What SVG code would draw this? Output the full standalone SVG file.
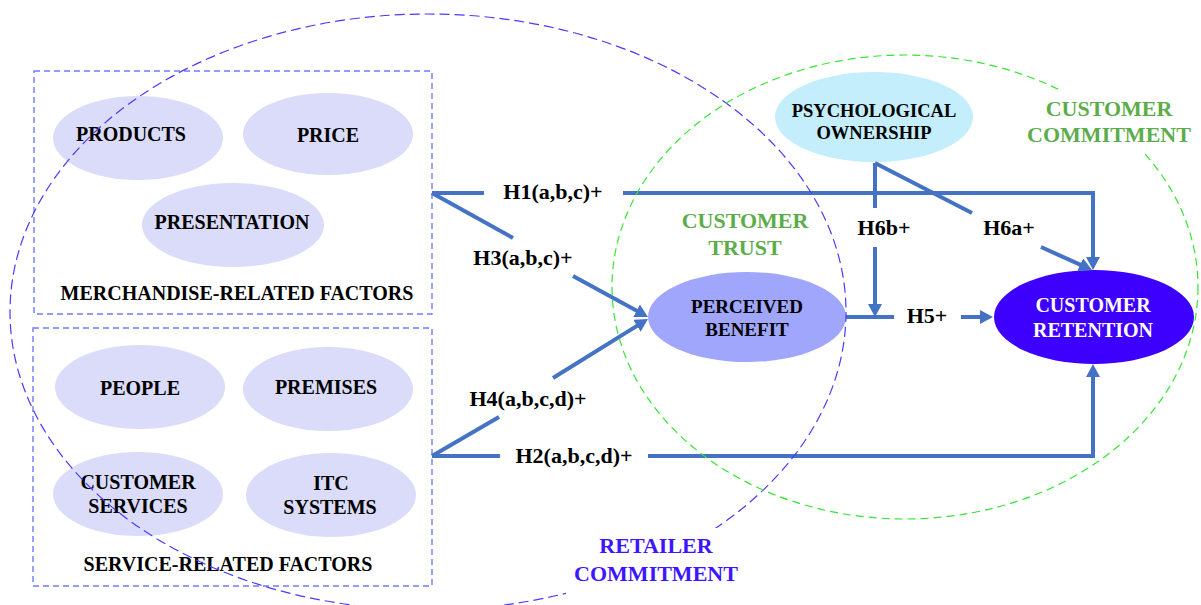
<svg xmlns="http://www.w3.org/2000/svg" width="1201" height="605" viewBox="0 0 1201 605">
<style>
text{font-family:"Liberation Serif","Times New Roman",serif;font-weight:bold;text-anchor:middle}
.lt{fill:#dadcfa}
.n{font-size:20px;fill:#000}
.h{font-size:22px;fill:#000}
.grp{font-size:22px}
.green{fill:#5cad4a}
.blue{fill:#3d16ff}
.box{fill:none;stroke:#6f7cfb;stroke-width:1.4;stroke-dasharray:6 4}
.con{fill:none;stroke:#4472c4;stroke-width:4}
.arr{marker-end:url(#ah)}
</style>
<defs>
<marker id="ah" markerUnits="userSpaceOnUse" markerWidth="14" markerHeight="14" refX="9" refY="7" orient="auto">
<path d="M0,0 L13,7 L0,14 z" fill="#4472c4"/>
</marker>
</defs>
<rect width="1201" height="605" fill="#fff"/>

<g id="merchandise-box">
<rect class="box" x="34" y="71" width="398" height="243"/>
<text class="n" x="237" y="300">MERCHANDISE-RELATED FACTORS</text>
</g>
<g id="service-box">
<rect class="box" x="33" y="328" width="399" height="258"/>
<text class="n" x="228" y="571">SERVICE-RELATED FACTORS</text>
</g>

<g id="products"><ellipse class="lt" cx="138" cy="138" rx="85" ry="42"/><text class="n" x="131" y="141">PRODUCTS</text></g>
<g id="price"><ellipse class="lt" cx="328" cy="134" rx="85" ry="41"/><text class="n" x="328" y="142">PRICE</text></g>
<g id="presentation"><ellipse class="lt" cx="233" cy="225" rx="91" ry="42"/><text class="n" x="232" y="229">PRESENTATION</text></g>
<g id="people"><ellipse class="lt" cx="140" cy="387" rx="85" ry="42"/><text class="n" x="140" y="395">PEOPLE</text></g>
<g id="premises"><ellipse class="lt" cx="328" cy="389" rx="85" ry="42"/><text class="n" x="326" y="394">PREMISES</text></g>
<g id="customer-services"><ellipse class="lt" cx="138" cy="494" rx="85" ry="42"/><text class="n" x="138" y="489">CUSTOMER</text><text class="n" x="138" y="513">SERVICES</text></g>
<g id="itc-systems"><ellipse class="lt" cx="331" cy="495" rx="85" ry="42"/><text class="n" x="331" y="490">ITC</text><text class="n" x="330" y="514">SYSTEMS</text></g>

<g id="perceived-benefit"><ellipse cx="747" cy="317" rx="99" ry="45" fill="#a0a6fb"/><text class="n" style="font-size:19px" x="747" y="313">PERCEIVED</text><text class="n" style="font-size:19px" x="747" y="336">BENEFIT</text></g>
<g id="psychological-ownership"><ellipse cx="874" cy="117" rx="99" ry="45" fill="#c4eefb"/><text class="n" style="font-size:18.5px" x="874" y="117">PSYCHOLOGICAL</text><text class="n" style="font-size:18.5px" x="874" y="139">OWNERSHIP</text></g>
<g id="customer-retention"><ellipse cx="1094" cy="317" rx="100" ry="47" fill="#3d00ff"/><text class="n" style="fill:#fff" x="1093" y="312">CUSTOMER</text><text class="n" style="fill:#fff" x="1093" y="337">RETENTION</text></g>

<g id="connectors">
<path class="con" d="M432,193 L484,193"/>
<path class="con arr" d="M623,193 L1093,193 L1093,266"/>
<path class="con" d="M432,193 L513,238"/>
<path class="con arr" d="M573,276 L644.5,315.1"/>
<path class="con" d="M432,456 L499,417"/>
<path class="con arr" d="M553,378 L644.6,321.1"/>
<path class="con" d="M432,456 L500,456"/>
<path class="con arr" d="M648,456 L1093,456 L1093,368"/>
<path class="con" d="M846,317 L894,317"/>
<path class="con arr" d="M961,317 L989,317"/>
<path class="con" d="M875,163 L875,208"/>
<path class="con arr" d="M875,247 L875,313"/>
<path class="con" d="M875,163 L972,213"/>
<path class="con arr" d="M1041,247 L1088.4,268.4"/>
<text class="h" x="553" y="199">H1(a,b,c)+</text>
<text class="h" x="523" y="265">H3(a,b,c)+</text>
<text class="h" x="528" y="406">H4(a,b,c,d)+</text>
<text class="h" x="574" y="463">H2(a,b,c,d)+</text>
<text class="h" x="927" y="323">H5+</text>
<text class="h" x="884" y="235">H6b+</text>
<text class="h" x="1009" y="235">H6a+</text>
</g>

<g id="retailer-commitment">
<ellipse cx="428" cy="312" rx="418" ry="298" fill="none" stroke="#4a3aff" stroke-width="1.2" stroke-dasharray="10 5"/>
<rect x="566" y="528" width="180" height="72" fill="#fff"/>
<text class="grp blue" x="656" y="553">RETAILER</text>
<text class="grp blue" x="656" y="581">COMMITMENT</text>
</g>
<g id="customer-commitment">
<ellipse cx="905" cy="287" rx="293" ry="232" fill="none" stroke="#33e633" stroke-width="1.2" stroke-dasharray="8 5"/>
<rect x="1018" y="90" width="183" height="62" fill="#fff"/>
<text class="grp green" x="1109" y="116">CUSTOMER</text>
<text class="grp green" x="1109" y="142">COMMITMENT</text>
</g>
<g id="customer-trust">
<text class="grp green" x="745" y="228">CUSTOMER</text>
<text class="grp green" x="745" y="255">TRUST</text>
</g>
</svg>
